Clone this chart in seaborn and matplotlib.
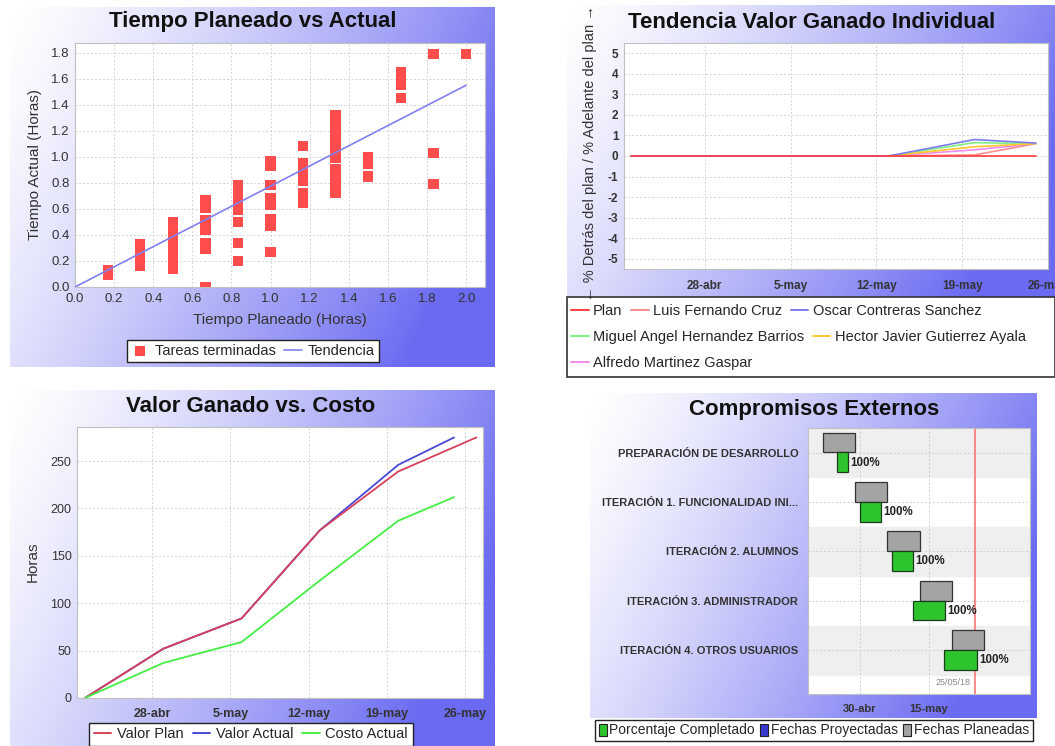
import numpy as np
import pandas as pd
import seaborn as sns
import matplotlib.pyplot as plt
import matplotlib.dates as mdates
from matplotlib.colors import LinearSegmentedColormap
from matplotlib.patches import Rectangle, Patch
from matplotlib.lines import Line2D

# --- Tiempo Planeado vs Actual (horas) ---
planeado_grupos = [0.167, 0.333, 0.5, 0.667, 0.833, 1.0, 1.167, 1.333, 1.5, 1.667, 1.833, 2.0]
actual_por_grupo = [
    [0.09, 0.11, 0.13],
    [0.16, 0.19, 0.22, 0.25, 0.28, 0.31, 0.33],
    [0.14, 0.17, 0.2, 0.23, 0.26, 0.29, 0.32, 0.35, 0.38, 0.41, 0.44, 0.47, 0.5],
    [0.0, 0.29, 0.335, 0.44, 0.47, 0.51, 0.61, 0.64, 0.67],
    [0.2, 0.34, 0.5, 0.59, 0.62, 0.66, 0.69, 0.72, 0.75, 0.78],
    [0.27, 0.47, 0.52, 0.63, 0.68, 0.785, 0.93, 0.97],
    [0.65, 0.68, 0.72, 0.815, 0.85, 0.89, 0.92, 0.955, 1.085],
    [0.72, 0.75, 0.78, 0.81, 0.84, 0.87, 0.905, 0.99, 1.02, 1.05, 1.08, 1.11,
     1.14, 1.17, 1.2, 1.23, 1.26, 1.29, 1.32],
    [0.85, 0.95, 1.0],
    [1.455, 1.55, 1.6, 1.65],
    [0.79, 1.03, 1.79],
    [1.79],
]
tendencia_x = [0.0, 2.0]
tendencia_y = [0.0, 1.55]

# --- Tendencia Valor Ganado Individual (%) ---
fechas_ind = ["2018-04-22", "2018-04-29", "2018-05-06", "2018-05-13", "2018-05-20", "2018-05-25"]
series_ind = ["Plan", "Luis Fernando Cruz", "Oscar Contreras Sanchez",
              "Miguel Angel Hernandez Barrios", "Hector Javier Gutierrez Ayala",
              "Alfredo Martinez Gaspar"]
plan_ind = [0, 0, 0, 0, 0, 0]
luis = [0, 0, 0, 0, 0.05, 0.6]
oscar = [0, 0, 0, 0, 0.8, 0.63]
miguel = [0, 0, 0, 0, 0.65, 0.6]
hector = [0, 0, 0, 0, 0.45, 0.6]
alfredo = [0, 0, 0, 0, 0.3, 0.6]
colores_ind = ["#ff3c3c", "#ff8c8c", "#7c7cf0", "#80f080", "#ffc830", "#f08cf0"]

# --- Valor Ganado vs. Costo (horas) ---
fechas_plan = ["2018-04-22", "2018-04-29", "2018-05-06", "2018-05-13", "2018-05-20", "2018-05-27"]
valor_plan = [0, 52, 84, 177, 239, 275]
fechas_real = ["2018-04-22", "2018-04-29", "2018-05-06", "2018-05-13", "2018-05-20", "2018-05-25"]
valor_actual = [0, 52, 84, 177, 246, 275]
costo_actual = [0, 37, 59, 124, 187, 212]

semanas = ["2018-04-28", "2018-05-05", "2018-05-12", "2018-05-19", "2018-05-26"]
semanas_txt = ["28-abr", "5-may", "12-may", "19-may", "26-may"]

# --- Compromisos Externos ---
tareas = ["PREPARACIÓN DE DESARROLLO", "ITERACIÓN 1. FUNCIONALIDAD INI...",
          "ITERACIÓN 2. ALUMNOS", "ITERACIÓN 3. ADMINISTRADOR",
          "ITERACIÓN 4. OTROS USUARIOS"]
plan_inicio = ["2018-04-22 00:00", "2018-04-29 00:00", "2018-05-06 00:00", "2018-05-13 00:00", "2018-05-20 00:00"]
plan_fin = ["2018-04-29 00:00", "2018-05-06 00:00", "2018-05-13 00:00", "2018-05-20 00:00", "2018-05-27 00:00"]
real_inicio = ["2018-04-25 00:00", "2018-04-30 00:00", "2018-05-07 00:00", "2018-05-11 12:00", "2018-05-18 08:00"]
real_fin = ["2018-04-27 10:00", "2018-05-04 14:00", "2018-05-11 12:00", "2018-05-18 12:00", "2018-05-25 10:00"]
porcentaje = ["100%", "100%", "100%", "100%", "100%"]
hoy = "2018-05-25"
gantt_ticks = ["2018-04-30", "2018-05-15"]
gantt_ticks_txt = ["30-abr", "15-may"]

sns.set_theme(style="white")
plt.rcParams["font.family"] = ["Liberation Sans", "DejaVu Sans"]
plt.rcParams["axes.unicode_minus"] = False

W, H = 1055, 746
fig = plt.figure(figsize=(W / 100, H / 100), dpi=100)


def box(x0, y0, x1, y1):
    return [x0 / W, 1 - y1 / H, (x1 - x0) / W, (y1 - y0) / H]


azul = LinearSegmentedColormap.from_list("fondo", ["#ffffff", "#6a6af2"])


def fondo(x0, y0, x1, y1):
    a = fig.add_axes(box(x0, y0, x1, y1), zorder=0)
    gx, gy = np.meshgrid(np.linspace(0, 1, 200), np.linspace(0, 1, 200))
    t = np.clip(0.85 * gx + 0.3 * gy, 0, 1) ** 1.3
    a.imshow(t, cmap=azul, aspect="auto", extent=[0, 1, 0, 1], vmin=0, vmax=1)
    a.axis("off")


def estilo(ax, size=9):
    ax.set_facecolor("white")
    for s in ax.spines.values():
        s.set_color("#c0c0c0")
        s.set_linewidth(0.8)
    ax.grid(True, color="#d4d4d4", linestyle=(0, (2, 2)), linewidth=0.7)
    ax.tick_params(length=2, color="#999999", labelsize=size, labelcolor="#333333", pad=2)
    ax.set_xlabel("")
    ax.set_ylabel("")


fondo(10, 7, 495, 367)
fondo(567, 5, 1055, 297)
fondo(10, 390, 495, 746)
fondo(590, 393, 1037, 718)

titulo = dict(fontsize=16, fontweight="bold", ha="center", va="center", color="#111111")

# ---------- Panel 1 ----------
df1 = pd.DataFrame(
    [(x, y) for x, ys in zip(planeado_grupos, actual_por_grupo) for y in ys],
    columns=["planeado", "actual"],
)
ax1 = fig.add_axes(box(75, 43, 485, 287), zorder=1)
sns.scatterplot(data=df1, x="planeado", y="actual", marker="s", s=55, color="#ff4c4c",
                edgecolor="none", label="Tareas terminadas", ax=ax1, zorder=3)
sns.lineplot(x=tendencia_x, y=tendencia_y, color="#8080f0", linewidth=1.2,
             label="Tendencia", ax=ax1, zorder=4)
ax1.set_xlim(0, 2.097)
ax1.set_ylim(0, 1.875)
ax1.set_xticks(np.arange(0, 2.01, 0.2))
ax1.set_yticks(np.arange(0, 1.81, 0.2))
ax1.xaxis.set_major_formatter(plt.FormatStrFormatter("%.1f"))
ax1.yaxis.set_major_formatter(plt.FormatStrFormatter("%.1f"))
estilo(ax1, size=9.5)
ax1.legend(loc="center", bbox_to_anchor=(253 / W, 1 - 351 / H), bbox_transform=fig.transFigure,
           ncol=2, fontsize=10.5, frameon=True, fancybox=False, framealpha=1,
           edgecolor="#222222", handlelength=1.2, handletextpad=0.4, columnspacing=0.6,
           borderpad=0.3)
ax1.get_legend().get_frame().set_linewidth(1.0)
fig.text(253 / W, 1 - 21 / H, "Tiempo Planeado vs Actual", **titulo)
fig.text(280 / W, 1 - 320 / H, "Tiempo Planeado (Horas)", fontsize=11, ha="center",
         va="center", color="#333333")
fig.text(35 / W, 1 - 165 / H, "Tiempo Actual (Horas)", fontsize=11, ha="center",
         va="center", rotation=90, color="#333333")

# ---------- Panel 2 ----------
df2 = pd.DataFrame({
    "fecha": pd.to_datetime(fechas_ind * 6),
    "valor": plan_ind + luis + oscar + miguel + hector + alfredo,
    "serie": [n for n in series_ind for _ in fechas_ind],
})
ax2 = fig.add_axes(box(624, 43, 1048, 269), zorder=1)
orden = [1, 3, 5, 4, 2, 0]
for i in orden:
    sub = df2[df2["serie"] == series_ind[i]]
    sns.lineplot(data=sub, x="fecha", y="valor", color=colores_ind[i], linewidth=1.2,
                 ax=ax2, legend=False)
ax2.set_xlim(pd.Timestamp("2018-04-21 10:00"), pd.Timestamp("2018-05-26"))
ax2.set_ylim(-5.5, 5.5)
ax2.set_yticks(range(-5, 6))
ax2.set_xticks(pd.to_datetime(semanas))
ax2.set_xticklabels(semanas_txt)
estilo(ax2, size=8.5)
ax2.tick_params(axis="x", pad=8, length=0)
for lab in ax2.get_xticklabels() + ax2.get_yticklabels():
    lab.set_fontweight("bold")
fig.text(812 / W, 1 - 22 / H, "Tendencia Valor Ganado Individual", **titulo)
fig.text(590 / W, 1 - 153 / H, "← % Detrás del plan / % Adelante del plan →", fontsize=10.5,
         ha="center", va="center", rotation=90, color="#333333")

fig.add_artist(Rectangle((567 / W, 1 - 377 / H), (W - 567) / W, 80 / H,
                         transform=fig.transFigure, facecolor="white",
                         edgecolor="#333333", linewidth=1.2, zorder=2))
filas = [[0, 1, 2], [3, 4], [5]]
for k, fila in enumerate(filas):
    handles = [Line2D([0], [0], color=colores_ind[i], linewidth=1.4) for i in fila]
    leg = fig.legend(handles, [series_ind[i] for i in fila], loc="center left",
                     bbox_to_anchor=(571 / W, 1 - (311 + 26 * k) / H), ncol=len(fila),
                     frameon=False, fontsize=10.5, handlelength=1.2, handletextpad=0.3,
                     columnspacing=0.6, borderpad=0, borderaxespad=0)
    leg.set_zorder(3)

# ---------- Panel 3 ----------
df3 = pd.concat([
    pd.DataFrame({"fecha": pd.to_datetime(fechas_real), "horas": valor_actual, "serie": "Valor Actual"}),
    pd.DataFrame({"fecha": pd.to_datetime(fechas_plan), "horas": valor_plan, "serie": "Valor Plan"}),
    pd.DataFrame({"fecha": pd.to_datetime(fechas_real), "horas": costo_actual, "serie": "Costo Actual"}),
])
ax3 = fig.add_axes(box(77, 427, 483, 698), zorder=1)
sns.lineplot(data=df3, x="fecha", y="horas", hue="serie",
             palette={"Valor Actual": "#4848d8", "Valor Plan": "#d8405a", "Costo Actual": "#44ee44"},
             hue_order=["Valor Actual", "Valor Plan", "Costo Actual"],
             linewidth=1.3, ax=ax3, legend=False)
ax3.set_xlim(pd.Timestamp("2018-04-21 07:00"), pd.Timestamp("2018-05-27 14:00"))
ax3.set_ylim(0, 286)
ax3.set_yticks(range(0, 251, 50))
ax3.set_xticks(pd.to_datetime(semanas))
ax3.set_xticklabels(semanas_txt)
estilo(ax3, size=9)
ax3.tick_params(axis="x", pad=7, length=0)
for lab in ax3.get_xticklabels():
    lab.set_fontweight("bold")
fig.text(251 / W, 1 - 406 / H, "Valor Ganado vs. Costo", **titulo)
fig.text(33 / W, 1 - 562 / H, "Horas", fontsize=11, ha="center", va="center",
         rotation=90, color="#333333")
h3 = [Line2D([0], [0], color=c, linewidth=1.4) for c in ["#d8405a", "#4848d8", "#44ee44"]]
leg3 = fig.legend(h3, ["Valor Plan", "Valor Actual", "Costo Actual"], loc="upper center",
                  bbox_to_anchor=(251 / W, 1 - 723 / H), ncol=3, fontsize=10.5,
                  frameon=True, fancybox=False, framealpha=1, edgecolor="#222222",
                  handlelength=1.2, handletextpad=0.4, columnspacing=0.6, borderpad=0.3,
                  borderaxespad=0)
leg3.get_frame().set_linewidth(1.0)

# ---------- Panel 4 ----------
ax4 = fig.add_axes(box(808, 428, 1030, 694), zorder=1)
ax4.set_facecolor("white")
p_ini = mdates.date2num(pd.to_datetime(plan_inicio))
p_fin = mdates.date2num(pd.to_datetime(plan_fin))
r_ini = mdates.date2num(pd.to_datetime(real_inicio))
r_fin = mdates.date2num(pd.to_datetime(real_fin))
for i in range(len(tareas)):
    if i % 2 == 0:
        ax4.axhspan(i - 0.5, i + 0.5, color="#efefef", zorder=0)
ax4.barh(np.arange(len(tareas)) - 0.205, p_fin - p_ini, left=p_ini, height=0.4,
         color="#a4a4a4", edgecolor="#333333", linewidth=0.9, zorder=3)
ax4.barh(np.arange(len(tareas)) + 0.195, r_fin - r_ini, left=r_ini, height=0.4,
         color="#2ec42e", edgecolor="#1c3a1c", linewidth=0.9, zorder=3)
for i, txt in enumerate(porcentaje):
    ax4.text(r_fin[i] + 0.5, i + 0.2, txt, fontsize=8.3, fontweight="bold", va="center",
             ha="left", color="#222222", zorder=4)
hoy_n = mdates.date2num(pd.Timestamp(hoy))
ax4.axvline(hoy_n, color="#ff6a6a", linewidth=1.1, zorder=2)
ax4.text(hoy_n - 1.0, 4.65, "25/05/18", fontsize=6.5, color="#888888", ha="right", va="center")
ax4.set_xlim(mdates.date2num(pd.Timestamp("2018-04-18 17:00")),
             mdates.date2num(pd.Timestamp("2018-06-06")))
ax4.set_ylim(4.885, -0.5)
ax4.set_yticks(range(len(tareas)))
ax4.set_yticklabels(tareas)
ax4.set_xticks(mdates.date2num(pd.to_datetime(gantt_ticks)))
ax4.set_xticklabels(gantt_ticks_txt)
for s in ax4.spines.values():
    s.set_color("#c0c0c0")
    s.set_linewidth(0.8)
ax4.grid(True, color="#cfcfcf", linestyle=(0, (2, 2)), linewidth=0.7, zorder=1)
ax4.set_axisbelow(True)
ax4.tick_params(axis="y", length=0, pad=7, labelsize=8, labelcolor="#333333")
ax4.tick_params(axis="x", length=0, pad=7, labelsize=8, labelcolor="#333333")
for lab in ax4.get_xticklabels() + ax4.get_yticklabels():
    lab.set_fontweight("bold")
fig.text(814 / W, 1 - 409 / H, "Compromisos Externos", **titulo)
h4 = [Patch(facecolor=c, edgecolor="#222222", linewidth=0.8)
      for c in ["#2ec42e", "#3a3ad0", "#a4a4a4"]]
leg4 = fig.legend(h4, ["Porcentaje Completado", "Fechas Proyectadas", "Fechas Planeadas"],
                  loc="upper center", bbox_to_anchor=(814 / W, 1 - 720 / H), ncol=3,
                  fontsize=10, frameon=True, fancybox=False, framealpha=1,
                  edgecolor="#222222", handlelength=0.55, handleheight=1.0,
                  handletextpad=0.2, columnspacing=0.4, borderpad=0.25, borderaxespad=0)
leg4.get_frame().set_linewidth(1.0)

fig.savefig("out.png", dpi=100)
